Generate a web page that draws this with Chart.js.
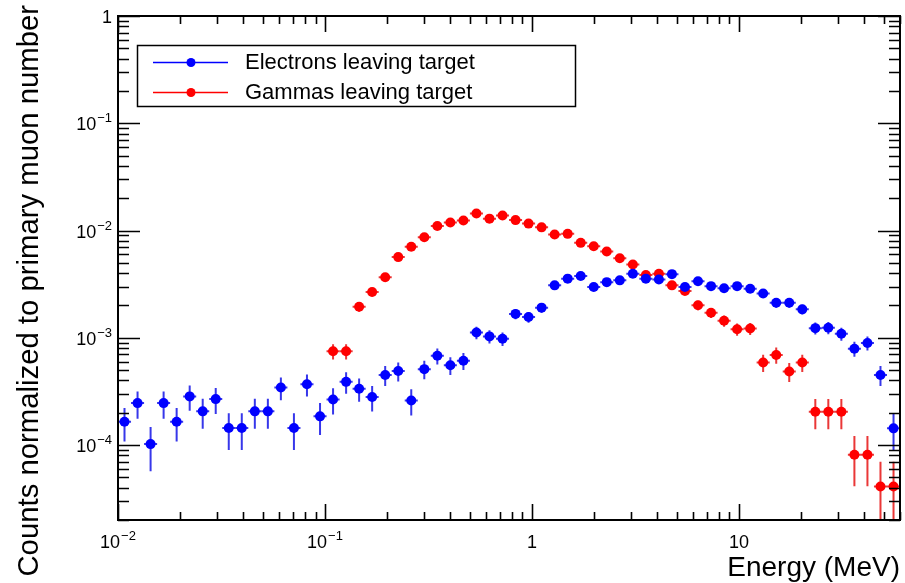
<!DOCTYPE html>
<html lang="en">
<head>
<meta charset="UTF-8">
<title>Electrons and gammas leaving target</title>
<script src="https://cdn.jsdelivr.net/npm/chart.js"></script>
<style>
  html, body { margin: 0; padding: 0; background: #fff; }
</style>
</head>
<body>
<canvas id="spectrum" width="905" height="583"></canvas>
<script>
// bin centres (MeV), 60 log bins between 0.01 and 60
const energies = [
  0.01075, 0.01243, 0.01437, 0.01661, 0.01920, 0.02220, 0.02566, 0.02966, 0.03429, 0.03963,
  0.04582, 0.05297, 0.06122, 0.07079, 0.08184, 0.09464, 0.1094, 0.1265, 0.1462, 0.1690,
  0.1954, 0.2259, 0.2611, 0.3019, 0.3490, 0.4034, 0.4665, 0.5392, 0.6233, 0.7207,
  0.8331, 0.9629, 1.113, 1.287, 1.488, 1.720, 1.988, 2.298, 2.657, 3.072,
  3.551, 4.105, 4.746, 5.486, 6.342, 7.332, 8.476, 9.797, 11.33, 13.09,
  15.14, 17.50, 20.23, 23.39, 27.03, 31.25, 36.13, 41.77, 48.29, 55.83
];

const electrons = [
  1.65e-4, 2.46e-4, 1.02e-4, 2.46e-4, 1.65e-4, 2.84e-4, 2.06e-4, 2.68e-4, 1.44e-4, 1.44e-4,
  2.06e-4, 2.06e-4, 3.44e-4, 1.44e-4, 3.69e-4, 1.85e-4, 2.66e-4, 3.88e-4, 3.35e-4, 2.8e-4,
  4.5e-4, 4.9e-4, 2.6e-4, 5.1e-4, 6.8e-4, 5.55e-4, 6.1e-4, 1.12e-3, 1.03e-3, 9.8e-4,
  1.67e-3, 1.56e-3, 1.91e-3, 3.08e-3, 3.56e-3, 3.76e-3, 2.97e-3, 3.3e-3, 3.43e-3, 3.95e-3,
  3.56e-3, 3.5e-3, 3.92e-3, 2.97e-3, 3.36e-3, 3.03e-3, 2.9e-3, 3.03e-3, 2.87e-3, 2.59e-3,
  2.12e-3, 2.12e-3, 1.84e-3, 1.23e-3, 1.24e-3, 1.09e-3, 7.9e-4, 8.95e-4, 4.5e-4, 1.43e-4
];
const electronErr = [
  5.7e-5, 7.0e-5, 4.5e-5, 7.0e-5, 5.7e-5, 7.5e-5, 6.4e-5, 7.3e-5, 5.4e-5, 5.4e-5,
  6.4e-5, 6.4e-5, 8.3e-5, 5.4e-5, 8.6e-5, 6.1e-5, 7.3e-5, 8.8e-5, 8.2e-5, 7.5e-5,
  9.5e-5, 9.9e-5, 7.2e-5, 1.0e-4, 1.16e-4, 1.05e-4, 1.1e-4, 1.5e-4, 1.44e-4, 1.4e-4,
  1.83e-4, 1.78e-4, 1.95e-4, 2.5e-4, 2.7e-4, 2.7e-4, 2.4e-4, 2.6e-4, 2.6e-4, 2.8e-4,
  2.7e-4, 2.6e-4, 2.8e-4, 2.4e-4, 2.6e-4, 2.5e-4, 2.4e-4, 2.5e-4, 2.4e-4, 2.3e-4,
  2.1e-4, 2.1e-4, 1.9e-4, 1.6e-4, 1.6e-4, 1.5e-4, 1.26e-4, 1.34e-4, 9.5e-5, 5.3e-5
];

const gammas = [
  null, null, null, null, null, null, null, null, null, null,
  null, null, null, null, null, null, 7.48e-4, 7.48e-4, 1.95e-3, 2.67e-3,
  3.66e-3, 5.65e-3, 7.06e-3, 8.67e-3, 1.10e-2, 1.19e-2, 1.24e-2, 1.44e-2, 1.29e-2, 1.38e-2,
  1.25e-2, 1.16e-2, 1.07e-2, 9.18e-3, 9.31e-3, 7.67e-3, 7.14e-3, 6.38e-3, 5.52e-3, 4.83e-3,
  3.84e-3, 3.95e-3, 3.08e-3, 2.73e-3, 2.01e-3, 1.71e-3, 1.44e-3, 1.20e-3, 1.22e-3, 5.88e-4,
  6.92e-4, 4.84e-4, 5.88e-4, 2.04e-4, 2.04e-4, 2.04e-4, 8.13e-5, 8.13e-5, 4.1e-5, 4.1e-5
];
const gammaErr = [
  null, null, null, null, null, null, null, null, null, null,
  null, null, null, null, null, null, 1.22e-4, 1.22e-4, 1.97e-4, 2.3e-4,
  2.7e-4, 3.4e-4, 3.8e-4, 4.2e-4, 4.7e-4, 4.9e-4, 5.0e-4, 5.4e-4, 5.1e-4, 5.3e-4,
  5.0e-4, 4.8e-4, 4.6e-4, 4.3e-4, 4.3e-4, 3.9e-4, 3.8e-4, 3.6e-4, 3.3e-4, 3.1e-4,
  2.8e-4, 2.8e-4, 2.5e-4, 2.3e-4, 2.0e-4, 1.85e-4, 1.7e-4, 1.55e-4, 1.56e-4, 1.08e-4,
  1.18e-4, 9.8e-5, 1.08e-4, 6.4e-5, 6.4e-5, 6.4e-5, 4.0e-5, 4.0e-5, 2.9e-5, 2.9e-5
];

const seriesNames = ['Electrons leaving target', 'Gammas leaving target'];
const xTicks = [0.01, 0.1, 1, 10];
const xTickLabels = [['10', '\u22122'], ['10', '\u22121'], ['1', ''], ['10', '']];
const yTicks = [1, 0.1, 0.01, 0.001, 0.0001];
const yTickLabels = [['1', ''], ['10', '\u22121'], ['10', '\u22122'], ['10', '\u22123'], ['10', '\u22124']];
const xTitle = 'Energy (MeV)';
const yTitle = 'Counts normalized to primary muon number';

const binHalfLog = 0.0315;   // half a bin in log10(E)
const FONT = "'Liberation Sans', Arial, Helvetica, sans-serif";

function points(values) {
  const pts = [];
  values.forEach((v, i) => { if (v !== null) pts.push({ x: energies[i], y: v, bin: i }); });
  return pts;
}

// vertical stat errors + horizontal bin width, ROOT style
const errorBars = {
  id: 'errorBars',
  beforeDatasetsDraw(chart) {
    const { ctx, chartArea: a, scales: { x, y } } = chart;
    const ratio = Math.pow(10, binHalfLog);
    ctx.save();
    ctx.beginPath();
    ctx.rect(a.left, a.top, a.right - a.left, a.bottom - a.top);
    ctx.clip();
    chart.data.datasets.forEach(ds => {
      ctx.strokeStyle = ds.errorColor;
      ctx.lineWidth = 2;
      ds.data.forEach(p => {
        const err = ds.errors[p.bin];
        const px = x.getPixelForValue(p.x);
        const py = y.getPixelForValue(p.y);
        const lo = p.y - err;
        const yLo = lo > 0 ? y.getPixelForValue(lo) : a.bottom;
        const yHi = y.getPixelForValue(p.y + err);
        ctx.beginPath();
        ctx.moveTo(px, yLo); ctx.lineTo(px, yHi);
        ctx.moveTo(x.getPixelForValue(p.x / ratio), py);
        ctx.lineTo(x.getPixelForValue(p.x * ratio), py);
        ctx.stroke();
      });
    });
    ctx.restore();
  }
};

function powerLabel(ctx, base, exp, xPos, baseline, align) {
  ctx.font = '18px ' + FONT;
  const wb = ctx.measureText(base).width;
  ctx.font = '13px ' + FONT;
  const we = exp ? ctx.measureText(exp).width + 1 : 0;
  const total = wb + we;
  let left = align === 'right' ? xPos - total : xPos - total / 2;
  ctx.textAlign = 'left';
  ctx.textBaseline = 'alphabetic';
  ctx.font = '18px ' + FONT;
  ctx.fillText(base, left, baseline);
  if (exp) {
    ctx.font = '13px ' + FONT;
    ctx.fillText(exp, left + wb + 1, baseline - 8);
  }
}

// frame, inward ticks on all sides, labels, titles, legend
const rootFrame = {
  id: 'rootFrame',
  afterDraw(chart) {
    const { ctx, chartArea: a, scales: { x, y } } = chart;
    ctx.save();
    ctx.strokeStyle = '#000';
    ctx.fillStyle = '#000';

    ctx.lineWidth = 1.6;
    ctx.beginPath();
    for (let k = -2; k <= 1; k++) {
      for (let m = 1; m <= 9; m++) {
        const v = m * Math.pow(10, k);
        if (v < x.min * 0.999 || v > x.max * 1.001) continue;
        const px = Math.round(x.getPixelForValue(v)) + 0.5;
        const len = m === 1 ? 16 : 8;
        ctx.moveTo(px, a.bottom); ctx.lineTo(px, a.bottom - len);
        ctx.moveTo(px, a.top); ctx.lineTo(px, a.top + len);
      }
    }
    for (let k = -5; k <= 0; k++) {
      for (let m = 1; m <= 9; m++) {
        const v = m * Math.pow(10, k);
        if (v < y.min * 0.999 || v > y.max * 1.001) continue;
        const py = Math.round(y.getPixelForValue(v)) + 0.5;
        const len = m === 1 ? 22 : 11;
        ctx.moveTo(a.left, py); ctx.lineTo(a.left + len, py);
        ctx.moveTo(a.right, py); ctx.lineTo(a.right - len, py);
      }
    }
    ctx.stroke();

    ctx.lineWidth = 2;
    ctx.strokeRect(a.left, a.top, a.right - a.left, a.bottom - a.top);

    xTicks.forEach((v, i) => {
      powerLabel(ctx, xTickLabels[i][0], xTickLabels[i][1], x.getPixelForValue(v), 548, 'center');
    });
    yTicks.forEach((v, i) => {
      powerLabel(ctx, yTickLabels[i][0], yTickLabels[i][1], 112, y.getPixelForValue(v) + 7, 'right');
    });

    ctx.font = '28px ' + FONT;
    ctx.textAlign = 'right';
    ctx.textBaseline = 'alphabetic';
    ctx.fillText(xTitle, 900, 576);

    ctx.save();
    ctx.translate(38, 5);
    ctx.rotate(-Math.PI / 2);
    ctx.font = '29.3px ' + FONT;
    ctx.textAlign = 'right';
    ctx.fillText(yTitle, 0, 0);
    ctx.restore();

    // legend
    ctx.fillStyle = '#fff';
    ctx.fillRect(137, 45, 438, 61);
    ctx.lineWidth = 1.5;
    ctx.strokeStyle = '#000';
    ctx.strokeRect(137.5, 45.5, 438, 61);
    chart.data.datasets.forEach((ds, i) => {
      const ly = 62.5 + i * 30;
      ctx.strokeStyle = ds.borderColor;
      ctx.lineWidth = 1.5;
      ctx.beginPath();
      ctx.moveTo(153, ly); ctx.lineTo(228, ly);
      ctx.stroke();
      ctx.fillStyle = ds.backgroundColor;
      ctx.beginPath();
      ctx.arc(191, ly, 4.5, 0, Math.PI * 2);
      ctx.fill();
      ctx.fillStyle = '#000';
      ctx.font = '22px ' + FONT;
      ctx.textAlign = 'left';
      ctx.textBaseline = 'middle';
      ctx.fillText(ds.label, 245, ly);
    });
    ctx.restore();
  }
};

const config = {
  type: 'scatter',
  data: {
    datasets: [
      {
        label: seriesNames[0],
        data: points(electrons),
        errors: electronErr,
        backgroundColor: '#0000ff',
        borderColor: '#0000ff',
        errorColor: 'rgba(20, 20, 230, 0.85)',
        pointRadius: 5,
        pointBorderWidth: 0
      },
      {
        label: seriesNames[1],
        data: points(gammas),
        errors: gammaErr,
        backgroundColor: '#ff0000',
        borderColor: '#ff0000',
        errorColor: 'rgba(230, 20, 20, 0.85)',
        pointRadius: 5,
        pointBorderWidth: 0
      }
    ]
  },
  options: {
    responsive: false,
    animation: false,
    layout: { padding: { top: 16, right: 4, left: 0, bottom: 0 } },
    plugins: {
      legend: { display: false },
      tooltip: { enabled: false }
    },
    scales: {
      x: {
        type: 'logarithmic',
        min: 0.01,
        max: 60,
        ticks: { display: false },
        grid: { display: false },
        border: { display: false },
        afterFit(s) { s.height = 63; }
      },
      y: {
        type: 'logarithmic',
        min: 2e-5,
        max: 1,
        ticks: { display: false },
        grid: { display: false },
        border: { display: false },
        afterFit(s) { s.width = 118; }
      }
    }
  },
  plugins: [errorBars, rootFrame]
};

const spectrumChart = new Chart(document.getElementById('spectrum').getContext('2d'), config);
</script>
</body>
</html>
